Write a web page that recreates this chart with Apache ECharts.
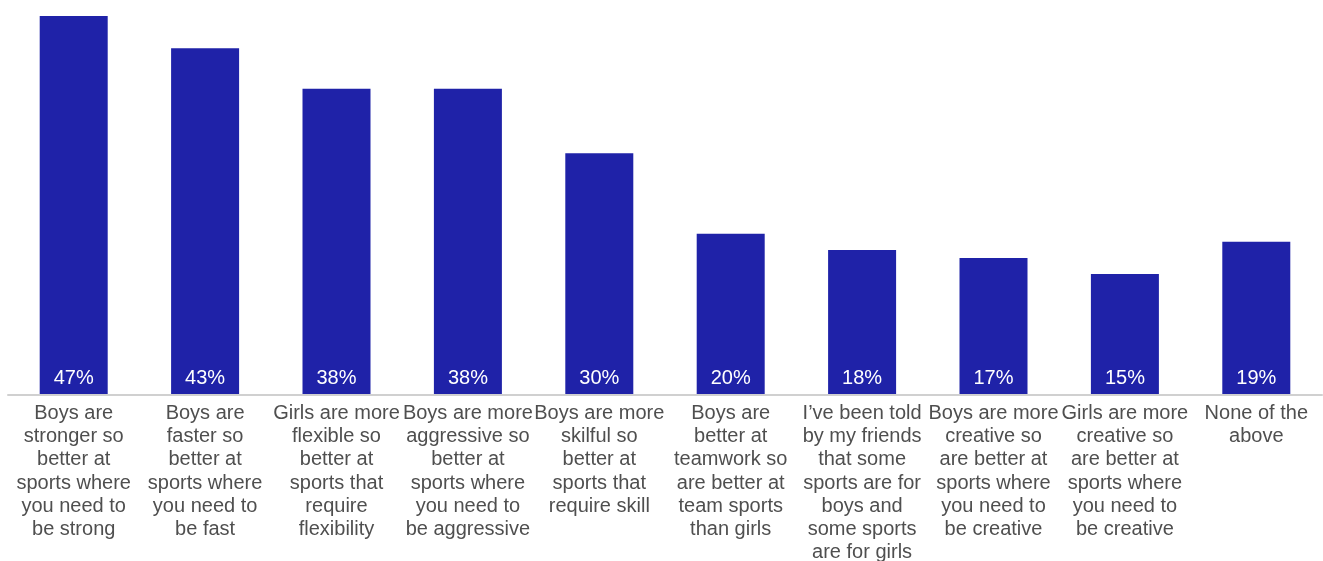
<!DOCTYPE html>
<html>
<head>
<meta charset="utf-8">
<script src="https://cdn.jsdelivr.net/npm/echarts@6/dist/echarts.min.js"></script>
<style>
  html, body { margin: 0; padding: 0; background: #ffffff; }
  #chart { width: 1323px; height: 561px; }
</style>
</head>
<body>
<div id="chart"></div>
<script>
// Reasons given for boys and girls being better at different sports
const categories = [
  "Boys are\nstronger so\nbetter at\nsports where\nyou need to\nbe strong",
  "Boys are\nfaster so\nbetter at\nsports where\nyou need to\nbe fast",
  "Girls are more\nflexible so\nbetter at\nsports that\nrequire\nflexibility",
  "Boys are more\naggressive so\nbetter at\nsports where\nyou need to\nbe aggressive",
  "Boys are more\nskilful so\nbetter at\nsports that\nrequire skill",
  "Boys are\nbetter at\nteamwork so\nare better at\nteam sports\nthan girls",
  "I\u2019ve been told\nby my friends\nthat some\nsports are for\nboys and\nsome sports\nare for girls",
  "Boys are more\ncreative so\nare better at\nsports where\nyou need to\nbe creative",
  "Girls are more\ncreative so\nare better at\nsports where\nyou need to\nbe creative",
  "None of the\nabove"
];
const percentages = [47, 43, 38, 38, 30, 20, 18, 17, 15, 19];

const chart = echarts.init(document.getElementById('chart'), null, { renderer: 'canvas' });

chart.setOption({
  animation: false,
  grid: { left: 8, right: 1, top: 0, bottom: 166, containLabel: false, outerBoundsMode: 'none' },
  xAxis: {
    type: 'category',
    data: categories,
    z: 5,
    axisLine: { show: true, lineStyle: { color: '#d0d0d0', width: 2 } },
    axisTick: { show: false },
    axisLabel: {
      interval: 0,
      margin: 6.5,
      color: '#4f4f4f',
      fontFamily: 'Liberation Sans, Arial, sans-serif',
      fontSize: 20,
      lineHeight: 23.3,
      align: 'center',
      verticalAlign: 'top'
    }
  },
  yAxis: {
    type: 'value',
    min: 0,
    max: 49,
    show: false,
    splitLine: { show: false }
  },
  series: [{
    type: 'bar',
    data: percentages,
    barWidth: 68,
    itemStyle: { color: '#1F22A8' },
    label: {
      show: true,
      position: 'insideBottom',
      distance: 7,
      color: '#ffffff',
      fontFamily: 'Liberation Sans, Arial, sans-serif',
      fontSize: 20,
      formatter: p => p.value + '%'
    }
  }]
});
</script>
</body>
</html>
